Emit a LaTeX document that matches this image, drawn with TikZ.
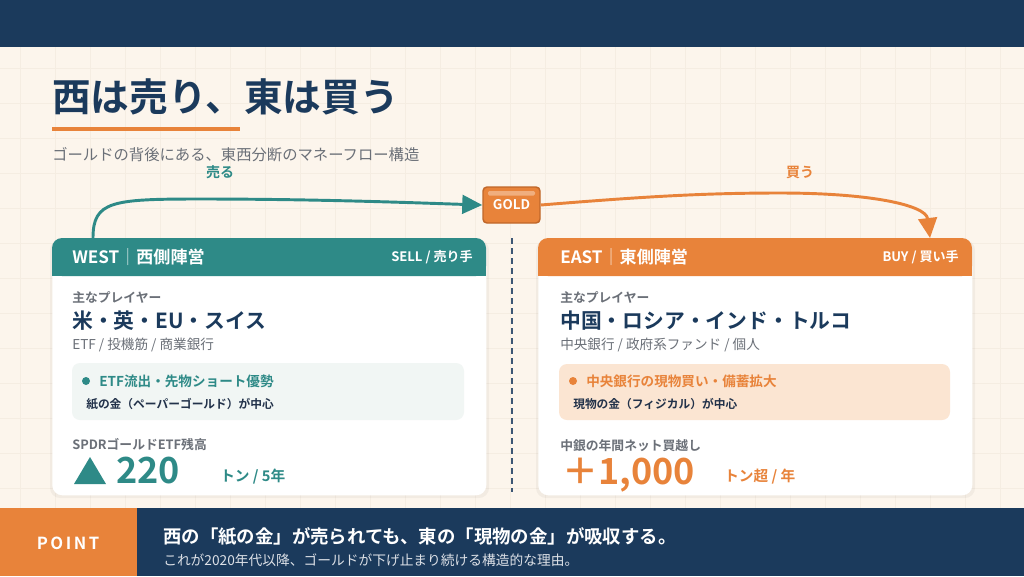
\documentclass[tikz,border=0pt]{standalone}
\usepackage{fontspec}
\setmainfont{Noto Sans CJK JP}[BoldFont={* Bold}]
\usetikzlibrary{arrows.meta,positioning,calc}
\definecolor{pNavy}{HTML}{1B3A5C}
\definecolor{pTeal}{HTML}{2E8A87}
\definecolor{pOrange}{HTML}{E8833A}
\definecolor{pOrangeDk}{HTML}{C0672A}
\definecolor{pCream}{HTML}{FCF5EC}
\definecolor{pGrid}{HTML}{F5EDE2}
\definecolor{pGray}{HTML}{6B7078}
\definecolor{pTealBox}{HTML}{F1F6F4}
\definecolor{pPeach}{HTML}{FBE5D2}
\definecolor{pInk}{HTML}{22324A}
\newcommand{\fsz}[1]{\fontsize{#1}{#1}\selectfont}

\begin{document}
\begin{tikzpicture}[x=0.75pt, y=-0.75pt,
    every node/.style={inner sep=0pt, anchor=west},
    card/.style={fill=white, rounded corners=7.5pt, minimum width=325.5pt,
                 minimum height=192.75pt, anchor=north west},
    ttl/.style={font=\bfseries\fsz{29}, text=pNavy},
    subttl/.style={font=\fsz{11.5}, text=pGray},
    flowlbl/.style={font=\bfseries\fsz{10.5}, anchor=center},
    headtxt/.style={font=\bfseries\fsz{12.8}, text=white},
    sidetxt/.style={font=\bfseries\fsz{9.8}, text=white, anchor=east},
    captxt/.style={font=\bfseries\fsz{9.6}, text=pGray},
    players/.style={font=\bfseries\fsz{15.6}, text=pNavy},
    roles/.style={font=\fsz{10.2}, text=pGray},
    pointtxt/.style={font=\bfseries\fsz{10.2}},
    notetxt/.style={font=\bfseries\fsz{8.8}, text=pInk},
    bignum/.style={font=\bfseries\fsz{27}, anchor=base west},
    unit/.style={font=\bfseries\fsz{11}},
    tarr/.style={-{Triangle[length=15pt, width=14pt]}, pTeal, line width=2.2pt},
    oarr/.style={-{Triangle[length=15pt, width=14pt]}, pOrange, line width=2.2pt},
    divider/.style={pNavy!85, line width=1.5pt, dash pattern=on 4.5pt off 3pt},
  ]
  % page and grid
  \useasboundingbox (0,0) rectangle (1024,576);
  \fill[pCream] (0,0) rectangle (1024,576);
  \begin{scope}[shift={(20,-2)}]
    \draw[pGrid, line width=0.6pt, step=26.25pt] (-20,49) grid (1004,510);
  \end{scope}
  \fill[pNavy] (0,0) rectangle (1024,47);

  % title block
  \node[ttl] (title) at (52,97) {西は売り、東は買う};
  \fill[pOrange] (52,127) rectangle (240,131);
  \node[subttl] (sub) at (52,155) {ゴールドの背後にある、東西分断のマネーフロー構造};

  % cards
  \fill[black, opacity=.04, rounded corners=7.5pt] (50,240) rectangle (489,498);
  \fill[black, opacity=.04, rounded corners=7.5pt] (536,240) rectangle (975,498);
  \node[card] (west) at (52,238) {};
  \node[card] (east) at (538,238) {};
  \fill[pTeal, rounded corners=7.5pt] (west.north west) rectangle ++(434,38);
  \fill[pTeal] ($(west.north west)+(0,20)$) rectangle ++(434,18);
  \fill[pOrange, rounded corners=7.5pt] (east.north west) rectangle ++(434,38);
  \fill[pOrange] ($(east.north west)+(0,20)$) rectangle ++(434,18);

  % west card
  \node[headtxt] (whead) at ($(west.north west)+(20,19)$) {WEST{\mdseries\color{white!80!pTeal}｜}西側陣営};
  \node[sidetxt] (wside) at ($(west.north west)+(421,19)$) {SELL / 売り手};
  \node[captxt] (wcap) at ($(west.north west)+(20,59)$) {主なプレイヤー};
  \node[players] (wplay) at ($(west.north west)+(20,83)$) {米・英・EU・スイス};
  \node[roles] (wrole) at ($(west.north west)+(20,107)$) {ETF / 投機筋 / 商業銀行};
  \fill[pTealBox, rounded corners=6pt] ($(west.north west)+(20,125)$) rectangle ++(392,57);
  \fill[pTeal] ($(west.north west)+(34,143)$) circle (4);
  \node[pointtxt, text=pTeal] (wpoint) at ($(west.north west)+(47,143)$) {ETF流出・先物ショート優勢};
  \node[notetxt] (wnote) at ($(west.north west)+(34,166)$) {紙の金（ペーパーゴールド）が中心};
  \node[captxt] (wmet) at ($(west.north west)+(20,207)$) {SPDRゴールドETF残高};
  \fill[pTeal] ($(west.north west)+(22,246)$) -- ++(32,0) -- ++(-16,-27) -- cycle;
  \node[bignum, text=pTeal] (wnum) at ($(west.north west)+(64,245)$) {220};
  \node[unit, text=pTeal] (wunit) at ($(west.north west)+(168,239)$) {トン / 5年};

  % east card
  \node[headtxt] (ehead) at ($(east.north west)+(22,19)$) {EAST{\mdseries\color{white!80!pOrange}｜}東側陣営};
  \node[sidetxt] (eside) at ($(east.north west)+(421,19)$) {BUY / 買い手};
  \node[captxt] (ecap) at ($(east.north west)+(22,59)$) {主なプレイヤー};
  \node[players] (eplay) at ($(east.north west)+(22,83)$) {中国・ロシア・インド・トルコ};
  \node[roles] (erole) at ($(east.north west)+(22,107)$) {中央銀行 / 政府系ファンド / 個人};
  \fill[pPeach, rounded corners=6pt] ($(east.north west)+(21,126)$) rectangle ++(391,56);
  \fill[pOrange] ($(east.north west)+(35,143)$) circle (4);
  \node[pointtxt, text=pOrange] (epoint) at ($(east.north west)+(48,143)$) {中央銀行の現物買い・備蓄拡大};
  \node[notetxt] (enote) at ($(east.north west)+(35,166)$) {現物の金（フィジカル）が中心};
  \node[captxt] (emet) at ($(east.north west)+(22,208)$) {中銀の年間ネット買越し};
  \node[bignum, text=pOrange] (enum) at ($(east.north west)+(24,246)$) {＋1,000};
  \node[unit, text=pOrange] (eunit) at ($(east.north west)+(186,239)$) {トン超 / 年};

  % divider
  \coordinate (dtop) at (512,238);
  \coordinate (dbot) at (512,492);
  \draw[divider] (dtop) -- (dbot);

  % gold and flows
  \node[fill=pOrange, draw=pOrangeDk, line width=1.1pt, rounded corners=3pt,
        minimum width=42.75pt, minimum height=27pt, anchor=center,
        font=\bfseries\fsz{10}, text=white] (gold) at (511.5,205) {GOLD};
  \fill[white, opacity=.35, rounded corners=1pt] (488,191) rectangle (535,195.5);
  \coordinate (wstart) at ($(west.north west)+(41,0)$);
  \coordinate (estart) at ($(east.north west)+(392,0)$);
  \draw[tarr] (wstart) .. controls (93,201) and (112,199) .. (200,199)
    .. controls (320,199) and (420,203) .. (gold.west);
  \draw[oarr] (gold.east) .. controls (640,197) and (700,193) .. (780,193)
    .. controls (870,193) and (926,205) .. (estart);
  \node[flowlbl, text=pTeal] (sell) at (220,172) {売る};
  \node[flowlbl, text=pOrange] (buy) at (800,172) {買う};

  % point bar
  \fill[pNavy] (0,508) rectangle (1024,576);
  \fill[pOrange] (0,508) rectangle (137,576);
  \node[anchor=center, font=\bfseries\fsz{12.5}\addfontfeature{LetterSpace=15}, text=white] (pt) at (68,543) {POINT};
  \node[font=\bfseries\fsz{13.8}, text=white] (msg) at (163,537) {西の「紙の金」が売られても、東の「現物の金」が吸収する。};
  \node[font=\fsz{10.3}, text=white!85!pNavy] (why) at (163,560) {これが2020年代以降、ゴールドが下げ止まり続ける構造的な理由。};
\end{tikzpicture}
\end{document}
